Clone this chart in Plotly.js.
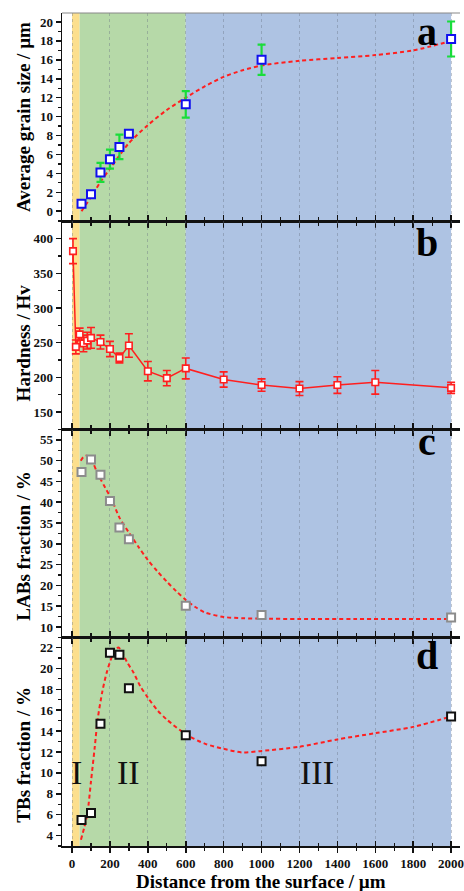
<!DOCTYPE html>
<html>
<head>
<meta charset="utf-8">
<script src="https://cdn.plot.ly/plotly-3.0.1.min.js"></script>
<style>html,body{margin:0;padding:0;background:#fff;}#chart{width:464px;height:891px;}</style>
</head>
<body>
<div id="chart"></div>
<script>
// ---- Panel a: average grain size ----
const xA = [50, 100, 150, 200, 250, 300, 600, 1000, 2000];
const yA = [0.8, 1.8, 4.1, 5.5, 6.8, 8.2, 11.3, 16.0, 18.2];
const errA = [0.2, 0.3, 1.0, 1.0, 1.3, 0.2, 1.4, 1.6, 1.85];
const fitAx = [50, 100, 150, 200, 250, 300, 400, 500, 600, 700, 800, 900, 1000, 1200, 1400, 1600, 1800, 2000];
const fitAy = [0.0, 1.5, 3.1, 4.5, 5.9, 7.2, 9.1, 10.7, 12.0, 13.2, 14.2, 14.9, 15.4, 15.9, 16.2, 16.5, 17.0, 18.0];

// ---- Panel b: hardness ----
const xB = [5, 20, 40, 60, 80, 100, 150, 200, 250, 300, 400, 500, 600, 800, 1000, 1200, 1400, 1600, 2000];
const yB = [382, 244, 262, 249, 253, 257, 251, 241, 228, 246, 209, 199, 213, 197, 189, 184, 189, 193, 185];
const errB = [18, 10, 9, 12, 12, 15, 10, 11, 7, 17, 14, 11, 15, 11, 9, 10, 12, 17, 8];

// ---- Panel c: LABs fraction ----
const xC = [50, 100, 150, 200, 250, 300, 600, 1000, 2000];
const yC = [47.3, 50.3, 46.6, 40.3, 33.9, 31.1, 15.1, 12.9, 12.3];
const fitCx = [46, 60, 75, 90, 110, 130, 150, 175, 210, 250, 300, 350, 400, 450, 500, 550, 600, 650, 700, 800, 900, 1000, 1200, 1500, 2000];
const fitCy = [50.0, 50.9, 51.2, 51.0, 49.6, 47.4, 45.6, 43.5, 40.6, 36.3, 32.7, 29.3, 26.1, 23.4, 20.9, 18.6, 16.5, 14.8, 13.5, 12.4, 12.1, 12.0, 11.9, 11.9, 11.9];

// ---- Panel d: TBs fraction ----
const xD = [50, 100, 150, 200, 250, 300, 600, 1000, 2000];
const yD = [5.5, 6.15, 14.7, 21.5, 21.3, 18.1, 13.6, 11.1, 15.4];
const fitDx = [47, 65, 81, 100, 120, 135, 160, 183, 210, 230, 245, 265, 290, 324, 360, 400, 450, 500, 600, 700, 800, 900, 1000, 1200, 1400, 1600, 1800, 2000];
const fitDy = [3.6, 4.8, 6.1, 9.2, 12.5, 15.1, 17.8, 19.6, 21.1, 21.8, 22.0, 21.5, 20.6, 19.6, 18.3, 17.2, 16.0, 15.1, 13.7, 12.8, 12.3, 11.95, 12.1, 12.5, 13.2, 13.8, 14.4, 15.4];

// ---- text ----
const panelLetters = ['a', 'b', 'c', 'd'];
const yTitles = ['Average grain size / µm', 'Hardness / Hv', 'LABs fraction / %', 'TBs fraction / %'];
const xTitle = 'Distance from the surface / µm';
const zoneNames = ['I', 'II', 'III'];
const zoneLabelX = [21, 300, 1293];
const zoneLabelY = 10;
const zoneEdges = [0, 40, 600, 2000];
const zoneColors = ['#FCDF8E', '#B6D9A8', '#AEC3E3'];

const RED = '#ff1f1f';
const serif = 'Liberation Serif, Times New Roman, serif';
const fitLine = {color: RED, width: 2, dash: '4px,3px', shape: 'spline', smoothing: 0.8};

const traces = [
  {x: fitAx, y: fitAy, xaxis: 'x', yaxis: 'y', mode: 'lines', line: fitLine, hoverinfo: 'skip'},
  {x: xA, y: yA, xaxis: 'x', yaxis: 'y', mode: 'markers',
   marker: {symbol: 'square', size: 8, color: '#ffffff', line: {color: '#1010ee', width: 2}},
   error_y: {type: 'data', array: errA, color: '#19dd3a', thickness: 2.2, width: 4}},
  {x: xB, y: yB, xaxis: 'x2', yaxis: 'y2', mode: 'lines+markers',
   line: {color: RED, width: 1.5},
   marker: {symbol: 'square', size: 6.5, color: '#ffffff', line: {color: RED, width: 1.6}},
   error_y: {type: 'data', array: errB, color: RED, thickness: 1.6, width: 4}},
  {x: fitCx, y: fitCy, xaxis: 'x3', yaxis: 'y3', mode: 'lines', line: fitLine, hoverinfo: 'skip'},
  {x: xC, y: yC, xaxis: 'x3', yaxis: 'y3', mode: 'markers',
   marker: {symbol: 'square', size: 8, color: '#ffffff', line: {color: '#8c8c8c', width: 2}}},
  {x: fitDx, y: fitDy, xaxis: 'x4', yaxis: 'y4', mode: 'lines', line: fitLine, hoverinfo: 'skip'},
  {x: xD, y: yD, xaxis: 'x4', yaxis: 'y4', mode: 'markers',
   marker: {symbol: 'square', size: 8, color: '#ffffff', line: {color: '#111111', width: 2}}},
  {x: [null], y: [null], xaxis: 'x5', yaxis: 'y4', mode: 'markers', hoverinfo: 'skip'}
];

const tickFont = {family: serif, size: 13, weight: 'bold', color: '#111'};
const XR = [-53, 2047];
function xax(anchor, opts) {
  return Object.assign({
    anchor: anchor, range: XR, domain: [0, 1],
    tick0: 0, dtick: 200, ticks: 'outside', ticklen: 5, tickwidth: 1.5, tickcolor: '#111',
    showline: true, linecolor: '#111', linewidth: 1.5,
    showgrid: true, gridcolor: 'rgba(100,110,130,0.38)', griddash: 'dot', gridwidth: 1,
    zeroline: false, showticklabels: false, tickfont: tickFont, ticklabeloverflow: 'allow',
    minor: {tick0: 0, dtick: 100, ticks: 'outside', ticklen: 3, tickwidth: 1.2, tickcolor: '#111', showgrid: false}
  }, opts || {});
}
function yax(anchor, domain, range, dtick, minor) {
  return {
    anchor: anchor, domain: domain, range: range, tick0: 0, dtick: dtick,
    ticks: 'outside', ticklen: 5, tickwidth: 1.5, tickcolor: '#111',
    showline: true, linecolor: '#111', linewidth: 1.5, showgrid: false, zeroline: false,
    tickfont: tickFont,
    minor: {dtick: minor, ticks: 'outside', ticklen: 3, tickwidth: 1.2, tickcolor: '#111', showgrid: false}
  };
}

const shapes = [];
['y', 'y2', 'y3', 'y4'].forEach(function (ya) {
  for (let i = 0; i < zoneColors.length; i++) {
    shapes.push({type: 'rect', xref: 'x', yref: ya + ' domain', x0: zoneEdges[i], x1: zoneEdges[i + 1], y0: 0, y1: 1,
      fillcolor: zoneColors[i], line: {width: 0}, layer: 'below'});
  }
});
shapes.push({type: 'line', xref: 'paper', yref: 'paper', x0: 0, x1: 1, y0: 1, y1: 1, line: {color: '#888', width: 1}});

const annotations = [];
const letterY = [0.978, 0.724, 0.486, 0.229];
panelLetters.forEach(function (t, i) {
  annotations.push({text: t, xref: 'paper', yref: 'paper', x: 0.918, y: letterY[i], xanchor: 'center', yanchor: 'middle',
    showarrow: false, font: {family: serif, size: 40, weight: 'bold', color: '#000'}});
});
const titleY = [0.8745, 0.604, 0.360, 0.109];
yTitles.forEach(function (t, i) {
  annotations.push({text: t, xref: 'paper', yref: 'paper', x: -0.0967, y: titleY[i], xanchor: 'center', yanchor: 'middle',
    textangle: -90, showarrow: false, font: {family: serif, size: 19, weight: 'bold', color: '#000'}});
});
annotations.push({text: xTitle, xref: 'paper', yref: 'paper', x: 0.5, y: -0.043, xanchor: 'center', yanchor: 'middle',
  showarrow: false, font: {family: serif, size: 19, weight: 'bold', color: '#000'}});
zoneNames.forEach(function (t, i) {
  annotations.push({text: t, xref: 'x4', yref: 'y4', x: zoneLabelX[i], y: zoneLabelY, xanchor: 'center', yanchor: 'middle',
    showarrow: false, font: {family: serif, size: 34, color: '#111'}});
});

const layout = {
  width: 464, height: 891,
  margin: {l: 62, r: 4, t: 13, b: 45, pad: 0},
  paper_bgcolor: '#ffffff', plot_bgcolor: 'rgba(0,0,0,0)',
  showlegend: false,
  xaxis: xax('y'),
  xaxis2: xax('y2', {mirror: 'ticks'}),
  xaxis3: xax('y3', {mirror: 'ticks'}),
  xaxis4: xax('y4', {mirror: 'ticks', showticklabels: true}),
  xaxis5: {overlaying: 'x4', anchor: 'y4', range: XR, tick0: 0, dtick: 200, ticks: 'inside', ticklen: 5, tickwidth: 1.5,
    tickcolor: '#111', showline: false, showgrid: false, zeroline: false, showticklabels: false,
    minor: {tick0: 0, dtick: 100, ticks: 'inside', ticklen: 3, tickwidth: 1.2, tickcolor: '#111', showgrid: false}},
  yaxis: yax('x', [0.75, 1], [-1.06, 20.95], 2, 1),
  yaxis2: yax('x2', [0.5, 0.75], [125, 425], 50, 25),
  yaxis3: yax('x3', [0.25, 0.5], [7.4, 57.5], 5, 2.5),
  yaxis4: yax('x4', [0, 0.25], [3.0, 22.93], 2, 1),
  shapes: shapes,
  annotations: annotations
};

Plotly.newPlot('chart', traces, layout, {staticPlot: true, displayModeBar: false});
</script>
</body>
</html>
